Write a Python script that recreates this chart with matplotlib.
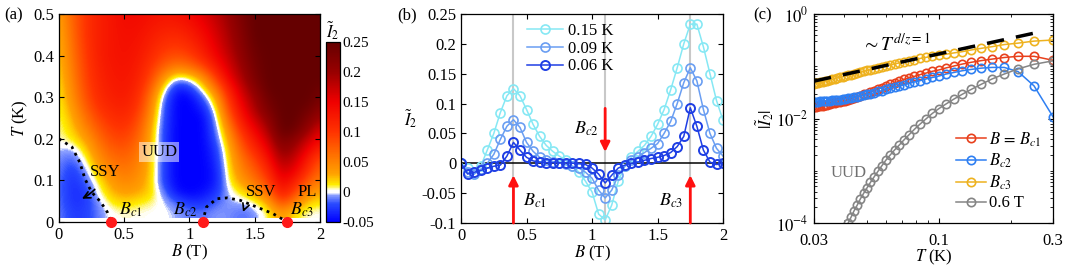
import matplotlib
matplotlib.use('Agg')
import matplotlib.pyplot as plt
import numpy as np
from matplotlib.colors import LinearSegmentedColormap
from matplotlib.ticker import LogLocator, NullFormatter

plt.rcParams['font.family'] = 'serif'
plt.rcParams['font.serif'] = ['Liberation Serif', 'DejaVu Serif']
plt.rcParams['mathtext.fontset'] = 'stix'
plt.rcParams['font.size'] = 12
plt.rcParams['axes.unicode_minus'] = False
plt.rcParams['xtick.direction'] = 'in'
plt.rcParams['ytick.direction'] = 'in'
plt.rcParams['xtick.top'] = True
plt.rcParams['ytick.right'] = True
plt.rcParams['axes.linewidth'] = 0.9

## (a) phase diagram: I2 sampled every 0.1 T in B (columns) and 0.025 K in T (rows)
map_B = [0.0, 0.1, 0.2, 0.3, 0.4, 0.5, 0.6, 0.7, 0.8, 0.9, 1.0,
         1.1, 1.2, 1.3, 1.4, 1.5, 1.6, 1.7, 1.8, 1.9, 2.0]
map_T = [0.0225, 0.0475, 0.0725, 0.0975, 0.1225, 0.1475, 0.1725, 0.1975, 0.2225, 0.2475,
         0.2725, 0.2975, 0.3225, 0.3475, 0.3725, 0.3975, 0.4225, 0.4475, 0.4725, 0.4975]
map_I2 = [
    [-0.01, -0.025, -0.025, -0.012, 0.002, 0.004, 0.003, 0.002, 0.0, -0.004, -0.012,
     -0.012, -0.006, -0.008, -0.015, -0.008, 0.008, 0.04, 0.012, 0.003, 0.002],
    [-0.012, -0.03, -0.028, -0.008, 0.012, 0.018, 0.012, 0.008, 0.0, -0.015, -0.03,
     -0.03, -0.015, -0.005, -0.004, 0.005, 0.03, 0.09, 0.05, 0.02, 0.012],
    [-0.012, -0.032, -0.028, 0.002, 0.025, 0.035, 0.03, 0.018, -0.01, -0.045, -0.05,
     -0.045, -0.03, 0.0, 0.015, 0.035, 0.065, 0.13, 0.09, 0.045, 0.03],
    [-0.012, -0.032, -0.018, 0.01, 0.035, 0.048, 0.04, 0.02, -0.025, -0.05, -0.05,
     -0.05, -0.04, 0.01, 0.035, 0.06, 0.09, 0.15, 0.12, 0.075, 0.05],
    [-0.01, -0.028, -0.01, 0.025, 0.048, 0.058, 0.048, 0.022, -0.025, -0.05, -0.05,
     -0.05, -0.04, 0.015, 0.05, 0.075, 0.11, 0.17, 0.15, 0.10, 0.065],
    [-0.008, -0.02, 0.002, 0.04, 0.06, 0.068, 0.055, 0.022, -0.025, -0.05, -0.05,
     -0.05, -0.035, 0.02, 0.06, 0.09, 0.13, 0.19, 0.17, 0.12, 0.08],
    [-0.003, -0.008, 0.015, 0.05, 0.072, 0.078, 0.062, 0.025, -0.025, -0.05, -0.05,
     -0.05, -0.03, 0.025, 0.075, 0.11, 0.15, 0.21, 0.19, 0.145, 0.11],
    [0.004, 0.01, 0.03, 0.062, 0.085, 0.09, 0.07, 0.028, -0.025, -0.05, -0.05,
     -0.05, -0.02, 0.035, 0.09, 0.13, 0.17, 0.23, 0.21, 0.17, 0.14],
    [0.005, 0.018, 0.045, 0.075, 0.095, 0.10, 0.08, 0.032, -0.025, -0.05, -0.05,
     -0.05, -0.012, 0.05, 0.11, 0.15, 0.19, 0.25, 0.24, 0.20, 0.16],
    [0.006, 0.025, 0.058, 0.088, 0.105, 0.11, 0.09, 0.04, -0.022, -0.05, -0.05,
     -0.05, -0.004, 0.07, 0.13, 0.17, 0.21, 0.25, 0.25, 0.22, 0.19],
    [0.008, 0.032, 0.07, 0.10, 0.113, 0.118, 0.10, 0.05, -0.02, -0.05, -0.05,
     -0.04, 0.01, 0.09, 0.145, 0.19, 0.23, 0.25, 0.25, 0.24, 0.21],
    [0.01, 0.04, 0.08, 0.108, 0.12, 0.124, 0.108, 0.06, -0.012, -0.05, -0.05,
     -0.02, 0.03, 0.105, 0.16, 0.20, 0.24, 0.25, 0.25, 0.25, 0.23],
    [0.012, 0.045, 0.085, 0.112, 0.123, 0.128, 0.114, 0.075, 0.01, -0.04, -0.03,
     0.01, 0.06, 0.125, 0.175, 0.215, 0.25, 0.25, 0.25, 0.25, 0.24],
    [0.015, 0.05, 0.09, 0.115, 0.126, 0.13, 0.12, 0.09, 0.04, 0.0, 0.01,
     0.04, 0.095, 0.15, 0.19, 0.23, 0.25, 0.25, 0.25, 0.25, 0.25],
    [0.017, 0.054, 0.092, 0.117, 0.128, 0.132, 0.124, 0.10, 0.07, 0.05, 0.06,
     0.085, 0.125, 0.165, 0.20, 0.235, 0.25, 0.25, 0.25, 0.25, 0.25],
    [0.02, 0.058, 0.095, 0.12, 0.13, 0.134, 0.128, 0.11, 0.09, 0.08, 0.09,
     0.115, 0.145, 0.175, 0.21, 0.24, 0.25, 0.25, 0.25, 0.25, 0.25],
    [0.022, 0.061, 0.097, 0.12, 0.13, 0.135, 0.131, 0.117, 0.102, 0.097, 0.107,
     0.128, 0.155, 0.185, 0.215, 0.245, 0.25, 0.25, 0.25, 0.25, 0.25],
    [0.025, 0.064, 0.10, 0.12, 0.13, 0.136, 0.134, 0.123, 0.113, 0.11, 0.12,
     0.138, 0.163, 0.19, 0.22, 0.25, 0.25, 0.25, 0.25, 0.25, 0.25],
    [0.027, 0.067, 0.10, 0.12, 0.13, 0.138, 0.137, 0.129, 0.122, 0.122, 0.132,
     0.148, 0.17, 0.195, 0.225, 0.25, 0.25, 0.25, 0.25, 0.25, 0.25],
    [0.03, 0.07, 0.10, 0.12, 0.13, 0.14, 0.14, 0.134, 0.13, 0.132, 0.142,
     0.158, 0.178, 0.20, 0.23, 0.25, 0.25, 0.25, 0.25, 0.25, 0.25],
]
ssy_B = [0.0, 0.1, 0.16, 0.2, 0.25, 0.32, 0.37, 0.4]
ssy_T = [0.2, 0.18, 0.143, 0.103, 0.072, 0.048, 0.024, 0.0]
ssv_B = [1.1, 1.13, 1.21, 1.29, 1.39, 1.515, 1.64, 1.75]
ssv_T = [0.0, 0.036, 0.056, 0.058, 0.052, 0.036, 0.02, 0.0]
crit_B = [0.4, 1.1, 1.75]

## (b) I2 vs B
fields = [0.0, 0.05, 0.1, 0.15, 0.2, 0.25, 0.3, 0.35, 0.4, 0.45, 0.5, 0.55, 0.6, 0.65,
          0.7, 0.75, 0.8, 0.85, 0.9, 0.95, 1.0, 1.05, 1.1, 1.15, 1.2, 1.25, 1.3, 1.35,
          1.4, 1.45, 1.5, 1.55, 1.6, 1.65, 1.7, 1.75, 1.8, 1.85, 1.9, 1.95, 2.0]
I2_015 = [0.0, -0.008, -0.018, -0.005, 0.022, 0.05, 0.085, 0.113, 0.125, 0.113, 0.09,
          0.065, 0.045, 0.03, 0.02, 0.012, 0.005, -0.005, -0.015, -0.03, -0.048, -0.085,
          -0.095, -0.07, -0.03, -0.005, 0.01, 0.02, 0.03, 0.045, 0.065, 0.09, 0.123, 0.16,
          0.2, 0.233, 0.233, 0.195, 0.15, 0.105, 0.072]
I2_009 = [0.0, -0.015, -0.018, -0.01, 0.0, 0.015, 0.04, 0.062, 0.073, 0.06, 0.035,
          0.02, 0.01, 0.005, 0.003, 0.001, -0.002, -0.005, -0.008, -0.015, -0.025, -0.045,
          -0.058, -0.045, -0.02, -0.005, 0.005, 0.01, 0.018, 0.025, 0.033, 0.05, 0.07, 0.1,
          0.135, 0.16, 0.138, 0.09, 0.05, 0.025, 0.012]
I2_006 = [0.0, -0.018, -0.015, -0.012, -0.008, -0.005, -0.003, 0.012, 0.035, 0.022, 0.01,
          0.004, 0.002, 0.001, 0.001, 0.001, 0.001, 0.0, 0.0, -0.002, -0.008, -0.018,
          -0.033, -0.02, -0.008, -0.003, 0.0, 0.002, 0.005, 0.008, 0.01, 0.013, 0.018, 0.028,
          0.045, 0.093, 0.062, 0.022, 0.002, -0.002, 0.0]

## (c) |I2| vs T
temps = [0.3, 0.25, 0.2143, 0.1875, 0.1667, 0.15, 0.1364, 0.125, 0.1154, 0.1071, 0.1,
         0.0938, 0.0882, 0.0833, 0.0789, 0.075, 0.0714, 0.0682, 0.0652, 0.0625, 0.06,
         0.0577, 0.0556, 0.0536, 0.0517, 0.05, 0.0484, 0.0469, 0.0455, 0.0441, 0.0429,
         0.0417, 0.0405, 0.0395, 0.0385, 0.0375, 0.0366, 0.0357, 0.0349, 0.0341, 0.0333,
         0.0326, 0.0319, 0.0313, 0.0306, 0.03]
abs_bc1 = [0.13, 0.155, 0.155, 0.147, 0.137, 0.128, 0.119, 0.11, 0.101, 0.093, 0.085,
           0.08, 0.074, 0.069, 0.064, 0.06, 0.056, 0.052, 0.048, 0.045, 0.042,
           0.039, 0.037, 0.034, 0.032, 0.030, 0.029, 0.027, 0.026, 0.025, 0.024,
           0.023, 0.022, 0.0215, 0.021, 0.0205, 0.02, 0.0195, 0.019, 0.0185, 0.018,
           0.0177, 0.0174, 0.0171, 0.0169, 0.0167]
abs_bc2 = [0.0108, 0.042, 0.079, 0.095, 0.095, 0.092, 0.087, 0.082, 0.076, 0.071, 0.065,
           0.061, 0.057, 0.053, 0.05, 0.047, 0.044, 0.042, 0.04, 0.038, 0.036,
           0.034, 0.033, 0.031, 0.03, 0.029, 0.028, 0.027, 0.026, 0.0255, 0.025,
           0.0245, 0.024, 0.0235, 0.023, 0.0228, 0.0225, 0.0222, 0.022, 0.0218, 0.0216,
           0.0214, 0.0212, 0.021, 0.0208, 0.0206]
abs_bc3 = [0.318, 0.303, 0.277, 0.26, 0.237, 0.22, 0.205, 0.19, 0.18, 0.17, 0.162,
           0.155, 0.148, 0.141, 0.134, 0.128, 0.122, 0.116, 0.111, 0.106, 0.101,
           0.097, 0.093, 0.089, 0.086, 0.083, 0.08, 0.077, 0.074, 0.072, 0.069,
           0.067, 0.065, 0.063, 0.061, 0.06, 0.058, 0.056, 0.055, 0.053, 0.052,
           0.05, 0.049, 0.048, 0.047, 0.046]
abs_06T = [0.127, 0.109, 0.089, 0.071, 0.057, 0.045, 0.036, 0.029, 0.0235, 0.019, 0.0155,
           0.0125, 0.0098, 0.0078, 0.0062, 0.0049, 0.0039, 0.0031, 0.0025, 0.002, 0.0016,
           0.00125, 0.00098, 0.00077, 0.0006, 0.00047, 0.00037, 0.00029, 0.00022, 0.00017,
           0.00013, 0.0001, 0.000075]
fit_T = [0.03, 0.25]
fit_I2 = [0.052, 0.43]

cmap = LinearSegmentedColormap.from_list('i2', [
    (0.0, '#0000ff'), (0.1, '#2a4bff'), (0.15, '#8fa3ff'), (0.16, '#ffffff'),
    (0.175, '#ffffff'), (0.205, '#ffee00'), (0.267, '#ffa200'),
    (0.5, '#ff3300'), (0.667, '#f00000'), (0.83, '#9a0000'), (1.0, '#650000')])

fig = plt.figure(figsize=(10.8, 2.74), dpi=100)

# ---------------- (a)
ax1 = fig.add_axes([0.0546, 0.1898, 0.2417, 0.759])
dB = map_B[1] - map_B[0]
dT = map_T[1] - map_T[0]
im = ax1.imshow(np.array(map_I2), origin='lower', aspect='auto', cmap=cmap,
                vmin=-0.05, vmax=0.25, interpolation='bicubic', interpolation_stage='data',
                extent=[map_B[0] - dB / 2, map_B[-1] + dB / 2,
                        map_T[0] - dT / 2, map_T[-1] + dT / 2])
ax1.plot(ssy_B, ssy_T, ':', color='k', lw=2)
ax1.plot(ssv_B, ssv_T, ':', color='k', lw=2)
ax1.plot(crit_B, [0, 0, 0], 'o', color='#ff1a1a', ms=7, clip_on=False, zorder=5)
ax1.set_xlim(0, 2)
ax1.set_ylim(0, 0.5)
ax1.set_xticks([0, 0.5, 1, 1.5, 2])
ax1.set_xticklabels(['0', '0.5', '1', '1.5', '2'])
ax1.set_yticks([0, 0.1, 0.2, 0.3, 0.4, 0.5])
ax1.set_yticklabels(['0', '0.1', '0.2', '0.3', '0.4', '0.5'])
ax1.set_xlabel('$B$ (T)', labelpad=0)
ax1.set_ylabel('$T$ (K)', labelpad=2)
ax1.text(0.77, 0.169, 'UUD', ha='center', va='center',
         bbox=dict(facecolor='white', alpha=0.5, edgecolor='none', pad=1.5))
ax1.annotate('SSY', xy=(0.176, 0.056), xytext=(0.355, 0.12), ha='center', va='center',
             arrowprops=dict(arrowstyle='->', color='k', lw=1.2,
                             connectionstyle='arc3,rad=-0.2', shrinkA=6, shrinkB=0))
ax1.annotate('SSV', xy=(1.41, 0.024), xytext=(1.55, 0.072), ha='center', va='center',
             arrowprops=dict(arrowstyle='->', color='k', lw=1.2,
                             connectionstyle='arc3,rad=0.2', shrinkA=5, shrinkB=0))
ax1.text(1.9, 0.073, 'PL', ha='center', va='center')
ax1.text(0.55, 0.03, '$B_{c1}$', ha='center', va='center', fontsize=13)
ax1.text(0.97, 0.03, '$B_{c2}$', ha='center', va='center', fontsize=13)
ax1.text(1.86, 0.03, '$B_{c3}$', ha='center', va='center', fontsize=13)

cax = fig.add_axes([0.3019, 0.1898, 0.013, 0.657])
cb = fig.colorbar(im, cax=cax)
cb.set_ticks([-0.05, 0, 0.05, 0.1, 0.15, 0.2, 0.25])
cb.set_ticklabels(['-0.05', '0', '0.05', '0.1', '0.15', '0.2', '0.25'])
cax.tick_params(direction='out', length=0, labelsize=11, pad=2)
cb.outline.set_linewidth(0.9)
cax.set_title(r'$\tilde{I}_2$', fontsize=12, pad=3)

# ---------------- (b)
ax2 = fig.add_axes([0.4269, 0.1861, 0.2426, 0.7628])
for b in crit_B:
    ax2.axvline(b, color='#c8c8c8', lw=1.5, zorder=0)
ax2.axhline(0, color='k', lw=1.1, zorder=1)
ax2.plot(fields, I2_015, '-o', color='#86e8f4', mfc='none', ms=6.5, mew=1.2, lw=1.1,
         label='0.15 K')
ax2.plot(fields, I2_009, '-o', color='#6a9ef2', mfc='none', ms=6.5, mew=1.2, lw=1.1,
         label='0.09 K')
ax2.plot(fields, I2_006, '-o', color='#1f3fe4', mfc='none', ms=6.5, mew=1.4, lw=1.1,
         label='0.06 K')
arrow_kw = dict(arrowstyle='-|>', color='#ff1010', lw=2, mutation_scale=14, shrinkA=0, shrinkB=0)
ax2.annotate('', xy=(0.4, -0.02), xytext=(0.4, -0.1), arrowprops=arrow_kw)
ax2.annotate('', xy=(1.1, 0.019), xytext=(1.1, 0.092), arrowprops=arrow_kw)
ax2.annotate('', xy=(1.75, -0.02), xytext=(1.75, -0.1), arrowprops=arrow_kw)
ax2.text(0.47, -0.062, '$B_{c1}$', ha='left', va='center', fontsize=13)
ax2.text(0.96, 0.058, '$B_{c2}$', ha='center', va='center', fontsize=13)
ax2.text(1.6, -0.062, '$B_{c3}$', ha='center', va='center', fontsize=13)
ax2.set_xlim(0, 2)
ax2.set_ylim(-0.1, 0.25)
ax2.set_xticks([0, 0.5, 1, 1.5, 2])
ax2.set_xticklabels(['0', '0.5', '1', '1.5', '2'])
ax2.set_yticks([-0.1, -0.05, 0, 0.05, 0.1, 0.15, 0.2, 0.25])
ax2.set_yticklabels(['-0.1', '-0.05', '0', '0.05', '0.1', '0.15', '0.2', '0.25'])
ax2.set_xlabel('$B$ (T)', labelpad=0)
ax2.set_ylabel(r'$\tilde{I}_2$', rotation=0, labelpad=8, va='center')
ax2.legend(loc='upper left', bbox_to_anchor=(0.2, 1.02), frameon=False,
           handlelength=2.2, handletextpad=0.3, labelspacing=0.1, borderpad=0.3)

# ---------------- (c)
ax3 = fig.add_axes([0.7537, 0.1861, 0.2213, 0.7628])
ax3.plot(temps, abs_bc1, '-o', color='#e8401c', mfc='none', ms=6, mew=1.2, lw=1.1,
         label=r'$B\,=\,B_{c1}$')
ax3.plot(temps, abs_bc2, '-o', color='#2e7ff2', mfc='none', ms=6, mew=1.2, lw=1.1,
         label='$B_{c2}$')
ax3.plot(temps, abs_bc3, '-o', color='#eeb21f', mfc='none', ms=6, mew=1.2, lw=1.1,
         label='$B_{c3}$')
ax3.plot(temps[:len(abs_06T)], abs_06T, '-o', color='#858585', mfc='none', ms=6, mew=1.2,
         lw=1.1, label='0.6 T')
ax3.plot(fit_T, fit_I2, '--', color='k', lw=2.5, dashes=(5, 3.5))
ax3.set_xscale('log')
ax3.set_yscale('log')
ax3.set_xlim(0.03, 0.3)
ax3.set_ylim(1e-4, 1)
ax3.set_xticks([0.03, 0.1, 0.3])
ax3.set_xticklabels(['0.03', '0.1', '0.3'])
ax3.xaxis.set_minor_formatter(NullFormatter())
ax3.set_yticks([1e-4, 1e-2, 1])
ax3.set_yticklabels(['$10^{-4}$', '$10^{-2}$', '$10^{0}$'])
ax3.yaxis.set_minor_locator(LogLocator(base=10, subs=np.arange(1, 10), numticks=20))
ax3.yaxis.set_minor_formatter(NullFormatter())
ax3.tick_params(axis='x', pad=7)
ax3.tick_params(axis='y', pad=4)
ax3.set_xlabel('$T$ (K)', labelpad=-1)
ax3.set_ylabel(r'$|\tilde{I}_2|$', labelpad=0)
ax3.text(0.066, 0.27, r'$\sim T^{d/z=1}$', ha='center', va='center', fontsize=14)
ax3.text(0.0418, 9e-4, 'UUD', ha='center', va='center', color='#707070', fontsize=12)
ax3.legend(loc='lower right', frameon=False, handlelength=1.8, handletextpad=0.2,
           labelspacing=0.2, borderaxespad=0.3, fontsize=12)

fig.text(0.004, 0.945, '(a)', ha='left', va='center')
fig.text(0.368, 0.945, '(b)', ha='left', va='center')
fig.text(0.697, 0.945, '(c)', ha='left', va='center')

plt.savefig('out.png', dpi=100)
